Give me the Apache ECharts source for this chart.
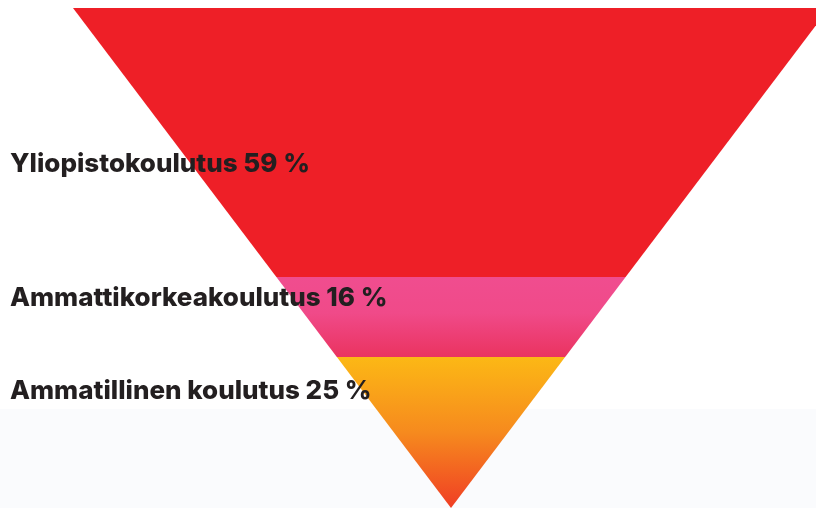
<!DOCTYPE html>
<html>
<head>
<meta charset="utf-8">
<style>
html,body{margin:0;padding:0;background:#ffffff;}
#chart{width:816px;height:508px;}
</style>
<script src="https://cdn.jsdelivr.net/npm/echarts@6/dist/echarts.min.js"></script>
</head>
<body>
<div id="chart"></div>
<script>
// Data
const categories = ['Yliopistokoulutus', 'Ammattikorkeakoulutus', 'Ammatillinen koulutus'];
const percents = [59, 16, 25];
// depth share of each band in the drawn triangle (% of height)
const bandShare = [53.8, 16, 30.2];

// layout / style
const labelDepth = [31.2, 58.0, 76.6];
const GRID_LEFT = 73, HALF_TOP_PX = 378, CHART_W = 816;
const xMax = (CHART_W - GRID_LEFT) / HALF_TOP_PX - 1; // right side is cut by the frame
const fills = [
  '#ee1f27',
  new echarts.graphic.LinearGradient(0, 0, 0, 1, [
    {offset: 0, color: '#f04d8f'}, {offset: 0.45, color: '#f04a89'}, {offset: 1, color: '#ea3360'}
  ]),
  new echarts.graphic.LinearGradient(0, 0, 0, 1, [
    {offset: 0, color: '#fcb815'}, {offset: 0.5, color: '#f68a1e'}, {offset: 1, color: '#f03e24'}
  ])
];

const bands = [];
let acc = 0;
for (let i = 0; i < categories.length; i++) {
  bands.push([acc, acc + bandShare[i], i]);
  acc += bandShare[i];
}

const chart = echarts.init(document.getElementById('chart'), null, {renderer: 'canvas'});
chart.setOption({
  animation: false,
  backgroundColor: '#ffffff',
  graphic: [{
    type: 'rect', z: -10, silent: true,
    shape: {x: 0, y: 409, width: 816, height: 99},
    style: {fill: '#fafbfd'}
  }],
  grid: {left: GRID_LEFT, right: 0, top: 8, bottom: 0},
  xAxis: {type: 'value', min: -1, max: xMax, show: false},
  yAxis: {type: 'value', min: 0, max: 100, inverse: true, show: false},
  series: [{
    type: 'custom',
    data: bands,
    encode: {y: [0, 1]},
    clip: false,
    renderItem: function (params, api) {
      const y0 = api.value(0), y1 = api.value(1), idx = api.value(2);
      const w0 = (100 - y0) / 100, w1 = (100 - y1) / 100;
      const pts = [
        api.coord([-w0, y0]), api.coord([w0, y0]),
        api.coord([w1, y1]), api.coord([-w1, y1])
      ];
      const ly = api.coord([0, labelDepth[idx]])[1];
      return {
        type: 'group',
        children: [{
          type: 'polygon',
          shape: {points: pts},
          style: {fill: fills[idx], stroke: null}
        }, {
          type: 'text',
          z2: 10,
          x: 10, y: ly,
          style: {
            text: categories[idx] + ' ' + percents[idx] + ' %',
            fill: '#231f20',
            font: '800 26px Inter',
            verticalAlign: 'middle',
            align: 'left'
          }
        }]
      };
    }
  }]
});
</script>
</body>
</html>
